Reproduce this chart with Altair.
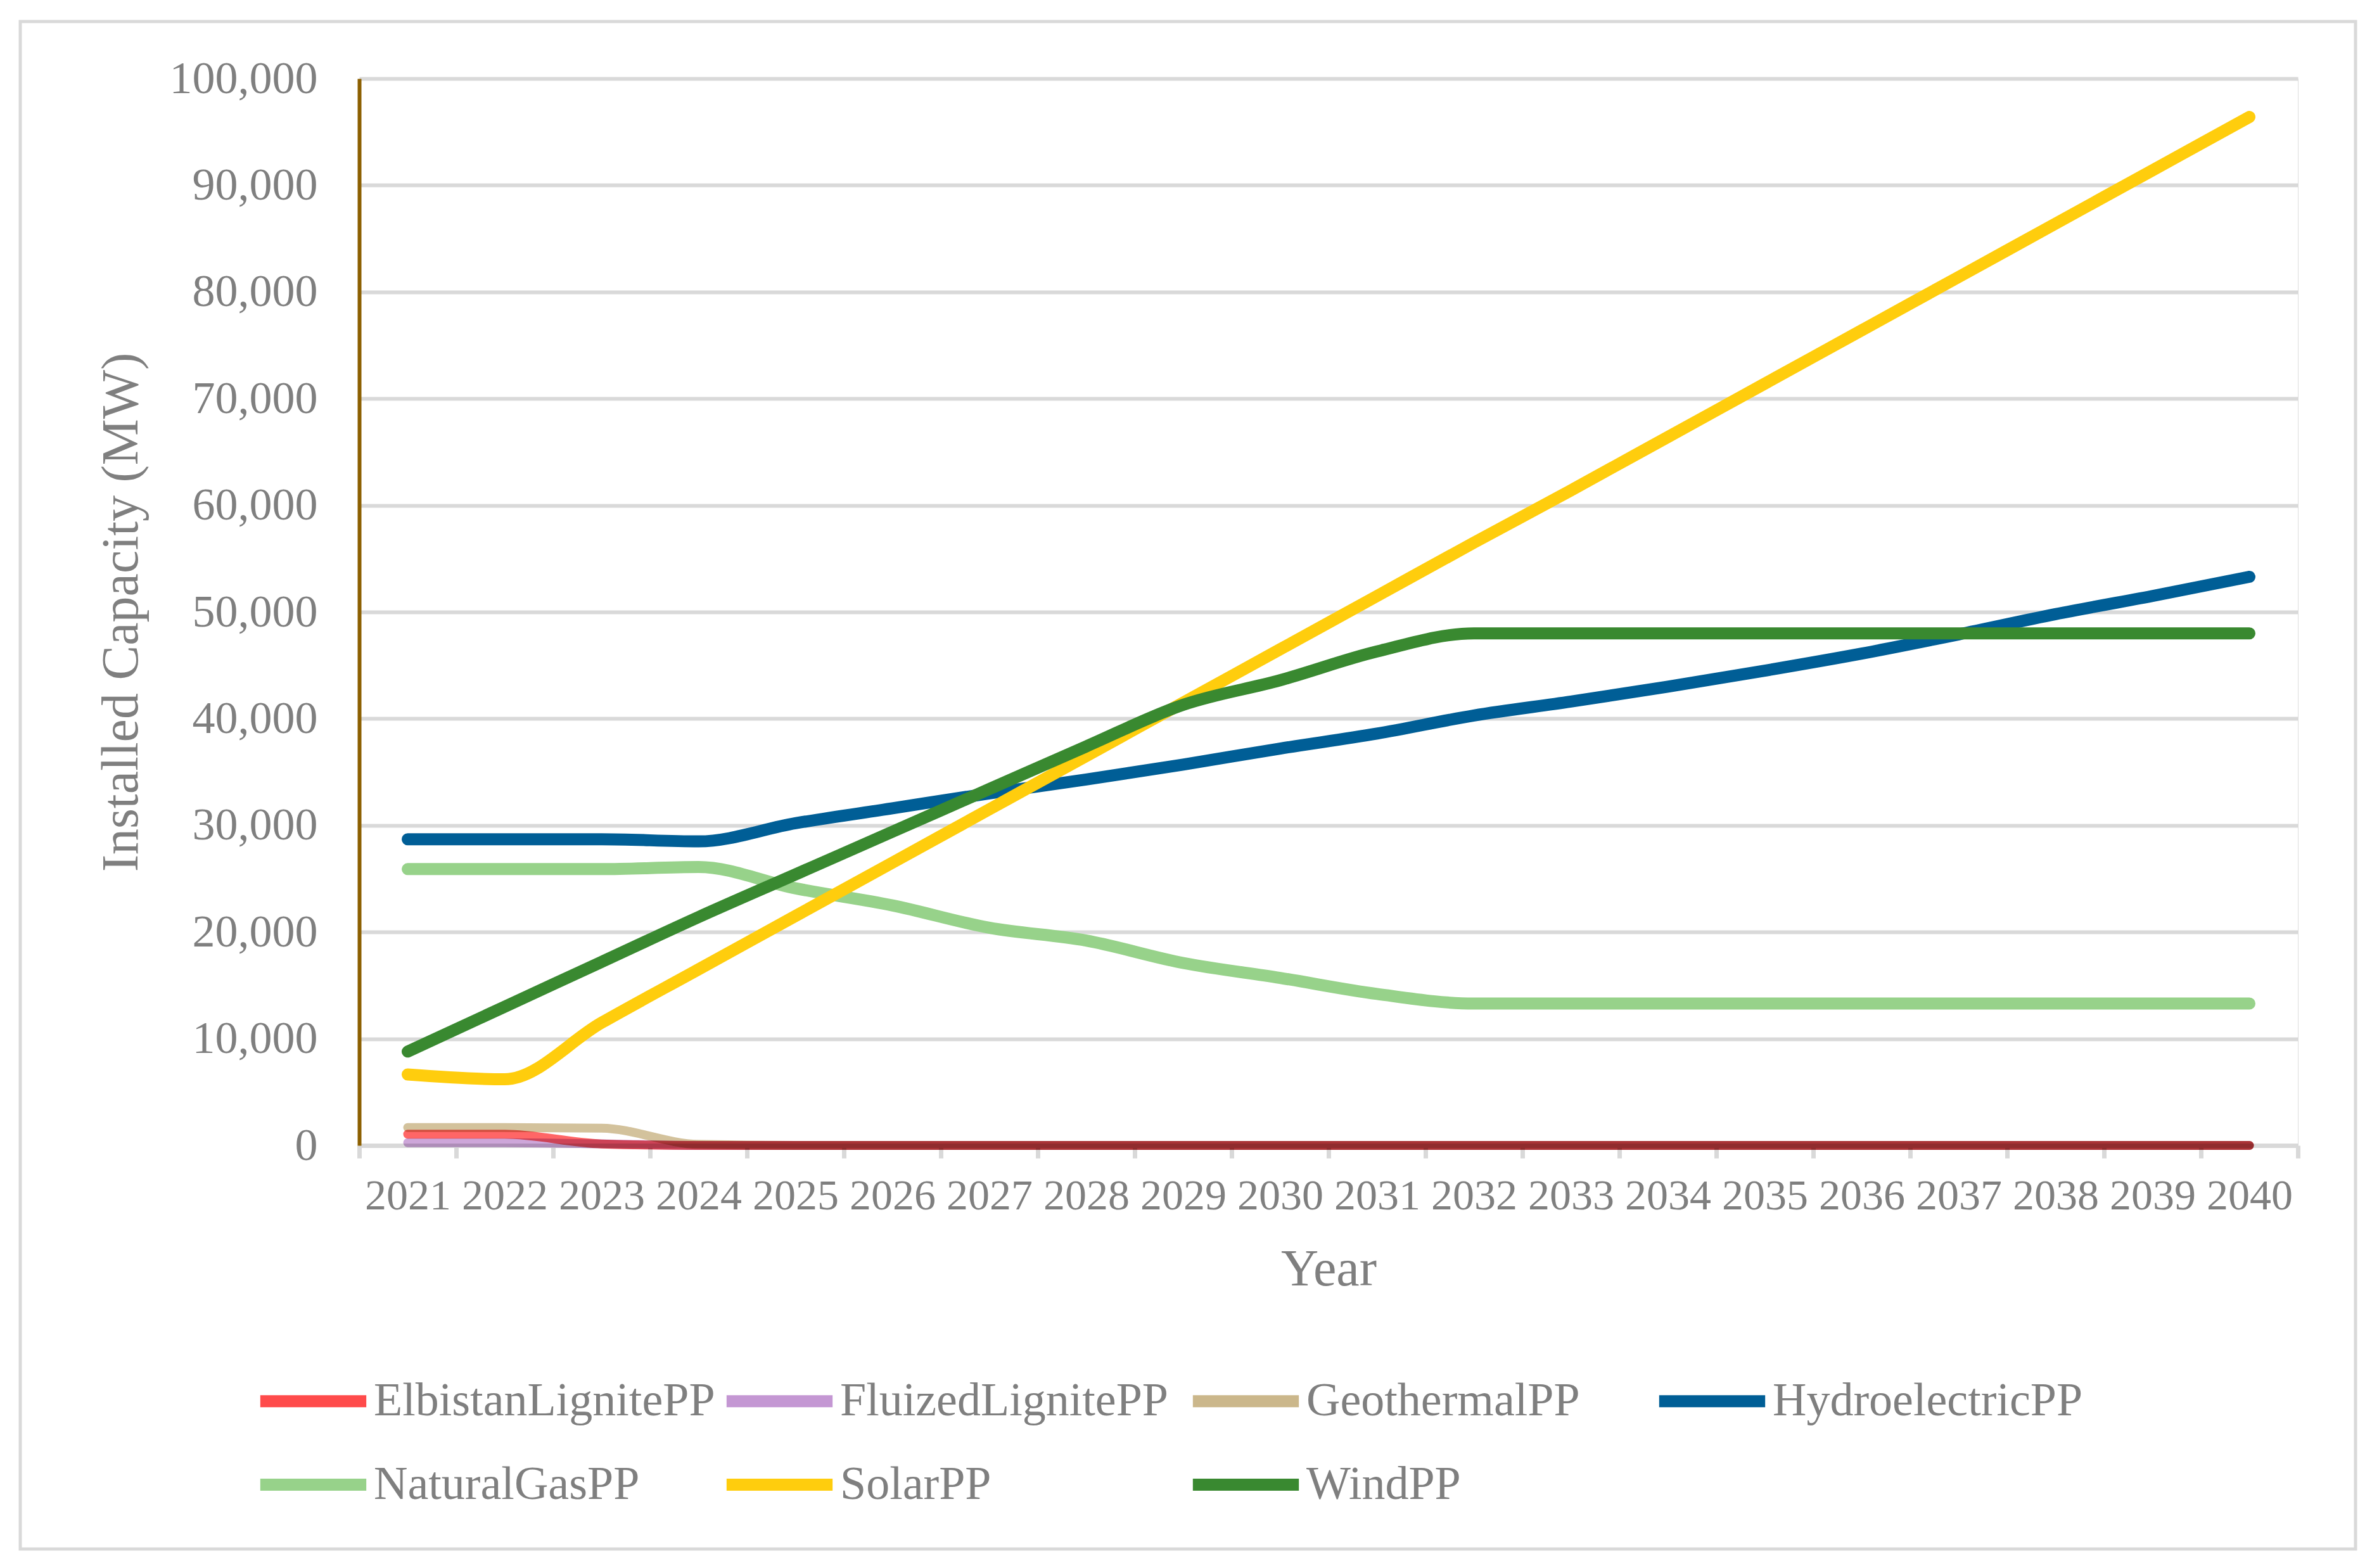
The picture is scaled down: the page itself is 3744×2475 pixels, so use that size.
import altair as alt
import pandas as pd

years = list(range(2021, 2041))
series_names = ["ElbistanLignitePP", "FluizedLignitePP", "GeothermalPP",
                "HydroelectricPP", "NaturalGasPP", "SolarPP", "WindPP"]
colors = ["#ff4b4b", "#c497d3", "#cbb78b", "#005e96", "#97d28a", "#ffcd0d", "#398930"]

elbistan = [1050, 1050, 140, 0, 0, 0, 0, 0, 0, 0, 0, 0, 0, 0, 0, 0, 0, 0, 0, 0]
fluized = [250, 250, 150, 0, 0, 0, 0, 0, 0, 0, 0, 0, 0, 0, 0, 0, 0, 0, 0, 0]
geothermal = [1680, 1680, 1620, 100, 0, 0, 0, 0, 0, 0, 0, 0, 0, 0, 0, 0, 0, 0, 0, 0]
hydro = [28700, 28700, 28700, 28500, 30200, 31600, 33000, 34300, 35700, 37200,
         38600, 40300, 41600, 43000, 44500, 46100, 47900, 49800, 51500, 53300]
natural_gas = [25900, 25900, 25900, 26100, 24100, 22500, 20400, 19200, 17100, 15700,
               14200, 13300, 13300, 13300, 13300, 13300, 13300, 13300, 13300, 13300]
solar = [6650, 6200, 11500, 16500, 21500, 26500, 31500, 36500, 41500, 46500,
         51500, 56500, 61400, 66400, 71400, 76400, 81400, 86400, 91400, 96400]
wind = [8800, 13000, 17200, 21400, 25400, 29400, 33400, 37400, 41300, 43600,
        46300, 48000, 48000, 48000, 48000, 48000, 48000, 48000, 48000, 48000]

all_values = [elbistan, fluized, geothermal, hydro, natural_gas, solar, wind]
rows = []
for k, (name, vals) in enumerate(zip(series_names, all_values)):
    for yr, v in zip(years, vals):
        rows.append({"year": str(yr), "series": name, "value": v, "k": k})
df = pd.DataFrame(rows)

FONT = "Liberation Serif"
GRAY = "#7f7f7f"
LIGHT = "#d9d9d9"
W, H = 3060, 1684

x_enc = alt.X(
    "year:O", bandPosition=0.5,
    scale=alt.Scale(type="band", paddingInner=0, paddingOuter=0),
    axis=alt.Axis(
        title="Year", titleFont=FONT, titleFontSize=82, titleColor=GRAY,
        titleFontWeight="normal", titleX=W / 2, titleY=220,
        titleBaseline="alphabetic", titleAlign="center",
        labelFont=FONT, labelFontSize=68, labelColor=GRAY, labelAngle=0,
        labelBaseline="alphabetic", labelPadding=80, labelOverlap=False,
        labelLimit=1000,
        domainColor=LIGHT, domainWidth=7, tickColor=LIGHT, tickWidth=7,
        tickSize=20, tickBand="extent", grid=False, zindex=0,
    ),
)
y_enc = alt.Y(
    "value:Q",
    scale=alt.Scale(domain=[0, 100000], nice=False),
    axis=alt.Axis(
        title="Installed Capacity (MW)", titleFont=FONT, titleFontSize=82,
        titleColor=GRAY, titleFontWeight="normal", titleX=-376, titleY=H / 2,
        titleAngle=270, titleAlign="center", titleBaseline="middle",
        values=list(range(0, 100001, 10000)), format=",d",
        labelFont=FONT, labelFontSize=72, labelColor=GRAY, labelPadding=66,
        labelLimit=1000,
        ticks=False, domainColor="#8c5f00", domainWidth=6,
        grid=True, gridColor=LIGHT, gridWidth=6, zindex=0,
    ),
)
color_enc = alt.Color(
    "series:N",
    scale=alt.Scale(domain=series_names, range=colors),
    legend=alt.Legend(
        title=None, orient="none", legendX=-166, legendY=1994, columns=4,
        direction="horizontal",
        gridAlign="all", symbolType="stroke", symbolSize=28000,
        symbolStrokeWidth=19, symbolOpacity=1, labelFont=FONT, labelFontSize=74,
        labelColor=GRAY, labelOffset=2, labelLimit=2000,
        columnPadding=-21, rowPadding=-8, padding=0,
    ),
)

base = alt.Chart(df).encode(x=x_enc, y=y_enc, color=color_enc,
                            order=alt.Order("k:Q"))

small = base.transform_filter(
    alt.FieldOneOfPredicate(field="series", oneOf=series_names[:3])
).mark_line(interpolate="monotone", strokeCap="round", strokeJoin="round",
            blend="multiply", opacity=0.85, strokeWidth=14)

big = base.transform_filter(
    alt.FieldOneOfPredicate(field="series", oneOf=series_names[3:])
).mark_line(interpolate="monotone", strokeCap="round", strokeJoin="round",
            strokeWidth=19)

frame = alt.Chart(alt.Data(values=[{"a": 1}])).mark_rect(
    fillOpacity=0, stroke=LIGHT, strokeWidth=5
).encode(x=alt.value(-535), x2=alt.value(3151), y=alt.value(-90), y2=alt.value(2321))

chart = alt.layer(frame, small, big).properties(
    width=W, height=H,
    autosize=alt.AutoSizeParams(type="none"),
    padding={"left": 559, "top": 116, "right": 100, "bottom": 640},
    background="white",
).configure_view(strokeWidth=0).configure(font=FONT)

chart.save("out.html", embed_options={"renderer": "svg", "actions": False})
